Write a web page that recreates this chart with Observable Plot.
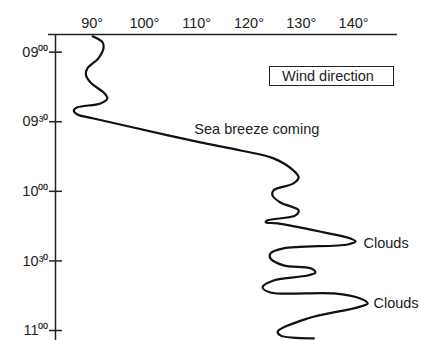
<!DOCTYPE html>
<html>
<head>
<meta charset="utf-8">
<script src="https://cdn.jsdelivr.net/npm/d3@7"></script>
<script src="https://cdn.jsdelivr.net/npm/@observablehq/plot@0.6"></script>
<style>
  html, body { margin: 0; padding: 0; background: #fff; }
  #wrap { position: relative; width: 431px; height: 340px; }
  #legend { position: absolute; left: 269px; top: 66px; width: 111px; height: 18px;
    border: 1.5px solid #222; font: 14.5px "Liberation Sans", Arial, sans-serif; color: #222;
    line-height: 18px; padding-left: 12px; box-sizing: content-box; }
</style>
</head>
<body>
<div id="wrap"><div id="chart"></div><div id="legend">Wind direction</div></div>
<script>
// Wind direction (degrees) vs. minutes after 09:00
const degrees = [90.1, 92.0, 92.2, 91.2, 89.1, 88.8, 89.7, 92.4, 92.9, 91.6, 87.2, 86.5, 87.2, 90.3, 97.9, 110.7, 118.4, 124.7, 128.5, 129.5, 128.5, 124.7, 124.5, 126.0, 129.5, 128.9, 123.6, 123.2, 125.5, 134.3, 139.4, 140.4, 138.9, 126.6, 124.1, 124.1, 126.6, 131.8, 132.7, 131.2, 124.7, 122.6, 124.1, 136.2, 141.3, 142.7, 140.8, 131.2, 125.5, 126.0, 132.4];
const minutes = [-6.8, -4.2, -2.0, 2.7, 7.0, 9.6, 13.1, 17.8, 20.0, 22.1, 23.8, 25.1, 26.9, 28.6, 32.5, 38.9, 42.4, 45.8, 51.0, 54.0, 56.6, 59.6, 61.8, 64.8, 68.2, 70.4, 72.5, 73.4, 73.8, 77.7, 80.3, 81.6, 82.9, 84.6, 86.8, 88.9, 91.9, 93.2, 95.0, 96.3, 98.4, 101.4, 103.6, 104.0, 106.2, 108.3, 110.0, 114.8, 120.4, 122.1, 123.4];

const xTicks = [90, 100, 110, 120, 130, 140];
const yTicks = [0, 30, 60, 90, 120];
const yTickLabels = ["09⁰⁰", "09³⁰", "10⁰⁰", "10³⁰", "11⁰⁰"];

const notes = ["Sea breeze coming", "Clouds", "Clouds"];
const noteDeg = [121.5, 141.9, 143.8];
const noteMin = [33.3, 82.5, 108.3];
const noteAnchor = ["middle", "start", "start"];

const data = degrees.map((d, i) => ({deg: d, min: minutes[i]}));
const noteData = notes.map((t, i) => ({text: t, deg: noteDeg[i], min: noteMin[i], anchor: noteAnchor[i]}));

const xDomain = [83.0, 148.4];
const yDomain = [-7.6, 124.3];

const chart = Plot.plot({
  width: 431,
  height: 340,
  marginTop: 34,
  marginLeft: 55,
  marginRight: 34,
  marginBottom: 0,
  style: {fontFamily: '"Liberation Sans", Arial, sans-serif', fontSize: "14.5px", color: "#222", background: "#fff"},
  x: {domain: xDomain},
  y: {domain: yDomain, reverse: true},
  marks: [
    Plot.axisX({anchor: "top", ticks: xTicks, tickSize: 0, tickPadding: 7, tickFormat: d => d + "°", label: null, fontSize: 14.5}),
    Plot.axisY({anchor: "left", ticks: yTicks, tickSize: 0, tickPadding: 7, tickFormat: d => yTickLabels[yTicks.indexOf(d)], label: null, fontSize: 14.5}),
    Plot.axisY({anchor: "left", ticks: yTicks, tickSize: 13, dx: 7, tickFormat: () => "", label: null, strokeWidth: 1.5}),
    Plot.ruleX([xDomain[0]], {stroke: "#222", strokeWidth: 1.5}),
    Plot.ruleY([yDomain[0]], {stroke: "#222", strokeWidth: 1.5, insetLeft: -7}),
    Plot.line(data, {x: "deg", y: "min", curve: "catmull-rom", stroke: "#111", strokeWidth: 2.2}),
    Plot.text(noteData.filter(d => d.anchor === "middle"), {x: "deg", y: "min", text: "text", textAnchor: "middle", fill: "#222", fontSize: 14.5}),
    Plot.text(noteData.filter(d => d.anchor === "start"), {x: "deg", y: "min", text: "text", textAnchor: "start", fill: "#222", fontSize: 14.5})
  ]
});
document.getElementById("chart").appendChild(chart);
</script>
</body>
</html>
